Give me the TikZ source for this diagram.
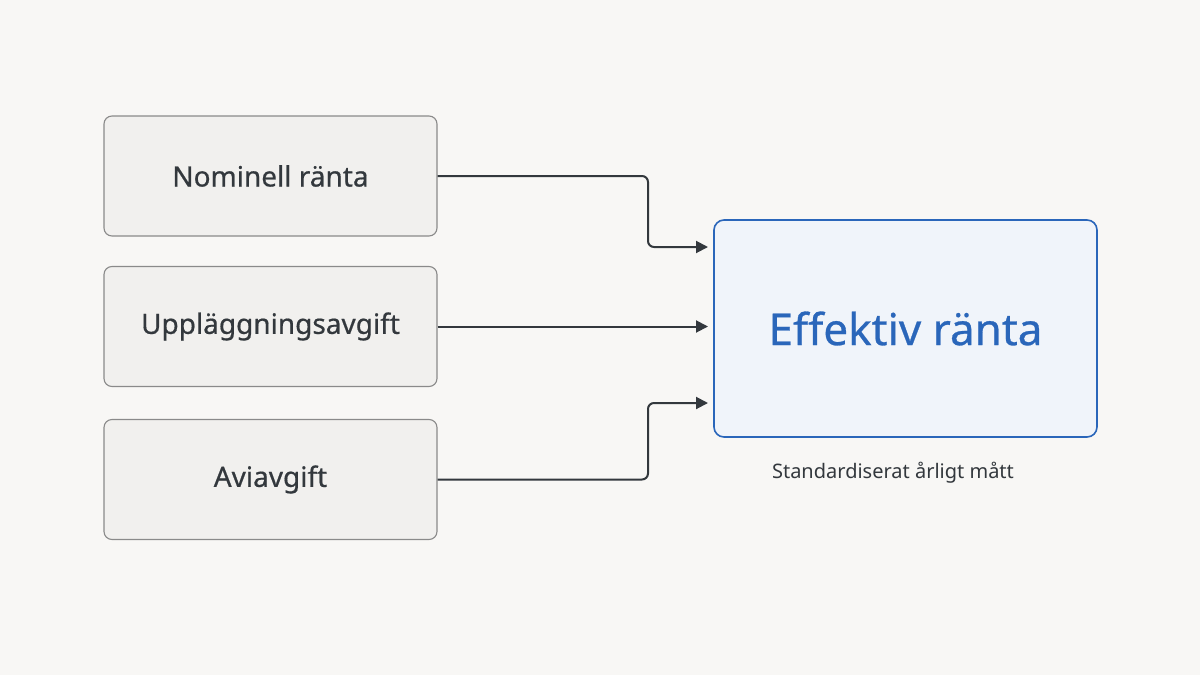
\documentclass[tikz,border=0pt]{standalone}
\usepackage{fontspec}
\setmainfont{Noto Sans}
\newfontfamily\medfont[FakeBold=0.6]{Noto Sans}
\usetikzlibrary{arrows.meta}
\definecolor{bg}{HTML}{F8F7F5}
\definecolor{boxfill}{HTML}{F1F0EE}
\definecolor{boxdraw}{HTML}{8A8A8A}
\definecolor{txt}{HTML}{33383D}
\definecolor{blue}{HTML}{2A66BA}
\definecolor{bluefill}{HTML}{F0F4FA}
\begin{document}
\begin{tikzpicture}[x=1pt,y=-1pt,
  src/.style={draw=boxdraw,fill=boxfill,rounded corners=8pt,line width=1.1pt,minimum width=333pt,minimum height=120pt,font=\medfont\fontsize{28}{30}\selectfont,text=txt},
  arr/.style={draw=txt,line width=2pt,-{Triangle[length=12pt,width=12pt]},rounded corners=6pt}]
\fill[bg] (0,0) rectangle (1200,675);
\node[src] (a) at (270.5,176) {Nominell ränta};
\node[src] (b) at (270.5,326.5) {Uppläggningsavgift};
\node[src] (c) at (270.5,479.5) {Aviavgift};
\node[draw=blue,fill=bluefill,rounded corners=10pt,line width=1.6pt,minimum width=383pt,minimum height=217pt,text=blue,font=\medfont\fontsize{44}{48}\selectfont] (e) at (905.5,328.5) {Effektiv ränta};
\node[text=txt,font=\fontsize{20}{22}\selectfont] (cap) at (893,473) {Standardiserat årligt mått};
\coordinate (e1) at (708,247);
\coordinate (e3) at (708,403);
\draw[arr] (a.east) -- (648,176) -- (648,247) -- (e1);
\draw[arr] (b.east) -- (b.east -| e1);
\draw[arr] (c.east) -- (648,479.5) -- (648,403) -- (e3);
\end{tikzpicture}
\end{document}
